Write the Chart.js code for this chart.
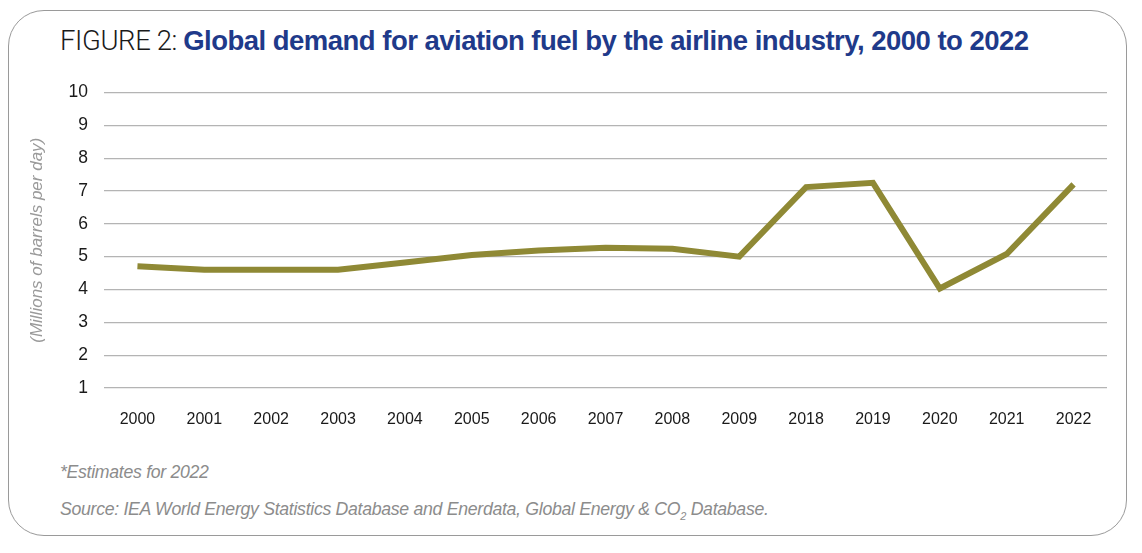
<!DOCTYPE html>
<html>
<head>
<meta charset="utf-8">
<script src="https://cdn.jsdelivr.net/npm/chart.js@4"></script>
<style>
  html, body { margin: 0; padding: 0; background: #fff; }
  body { width: 1142px; height: 553px; position: relative; overflow: hidden; font-family: "Liberation Sans", Arial, sans-serif; }
  .card { position: absolute; left: 8px; top: 10px; width: 1119px; height: 526px; border: 1px solid #9a9a9a; border-radius: 36px; box-sizing: border-box; }
  .title { position: absolute; left: 60px; top: 24px; font-size: 27.5px; letter-spacing: -0.52px; white-space: nowrap; color: #111; }
  .title .lead { font-family: Roboto, "Liberation Sans", sans-serif; font-weight: 300; color: #1a1a1a; letter-spacing: -0.4px; }
  .title .main { font-weight: bold; color: #1f3a8a; }
  .note { position: absolute; left: 60px; font-style: italic; color: #8c8c8c; font-size: 17.7px; letter-spacing: -0.3px; white-space: nowrap; }
  .wrap { position: absolute; left: 20px; top: 66px; width: 1100px; height: 384px; }
</style>
</head>
<body>
<div class="card"></div>
<div class="title"><span class="lead">FIGURE 2: </span><span class="main">Global demand for aviation fuel by the airline industry, 2000 to 2022</span></div>
<div class="wrap"><canvas id="c"></canvas></div>
<div class="note" style="top:462px;">*Estimates for 2022</div>
<div class="note" style="top:499px;">Source: IEA World Energy Statistics Database and Enerdata, Global Energy &amp; CO<sub style="font-size:11px;">2</sub> Database.</div>
<script>
const years = ["2000","2001","2002","2003","2004","2005","2006","2007","2008","2009","2018","2019","2020","2021","2022"];
const demand = [4.71, 4.6, 4.6, 4.6, 4.82, 5.05, 5.19, 5.27, 5.24, 5.0, 7.12, 7.25, 4.03, 5.08, 7.2];
const yTicks = [1,2,3,4,5,6,7,8,9,10];
const yTitle = "(Millions of barrels per day)";

new Chart(document.getElementById('c'), {
  type: 'line',
  data: {
    labels: years,
    datasets: [{
      data: demand,
      borderColor: '#8f8935',
      borderWidth: 6,
      pointRadius: 0,
      tension: 0,
      borderJoinStyle: 'miter',
      borderCapStyle: 'butt',
      fill: false
    }]
  },
  options: {
    responsive: true,
    maintainAspectRatio: false,
    animation: false,
    layout: { padding: { top: 18, right: 13, left: 0, bottom: 0 } },
    plugins: { legend: { display: false }, tooltip: { enabled: false } },
    scales: {
      x: {
        offset: true,
        grid: { display: false },
        border: { display: false },
        ticks: { color: '#1a1a1a', font: { size: 16, family: '"Liberation Sans", Arial, sans-serif' }, padding: 14, maxRotation: 0, autoSkip: false },
        afterFit: s => { s.height = 62; }
      },
      y: {
        min: 1, max: 10,
        afterBuildTicks: s => { s.ticks = yTicks.map(v => ({ value: v })); },
        grid: { color: '#b4b4b4', lineWidth: 1.2, drawTicks: false },
        border: { display: false },
        ticks: { color: '#1a1a1a', font: { size: 17.5, family: '"Liberation Sans", Arial, sans-serif' }, padding: 16 },
        title: { display: true, text: yTitle, color: '#9a9a9a', font: { size: 17, style: 'italic', family: '"Liberation Sans", Arial, sans-serif' }, padding: { top: 7, bottom: 4 } },
        afterFit: s => { s.width = 84; }
      }
    }
  }
});
</script>
</body>
</html>
